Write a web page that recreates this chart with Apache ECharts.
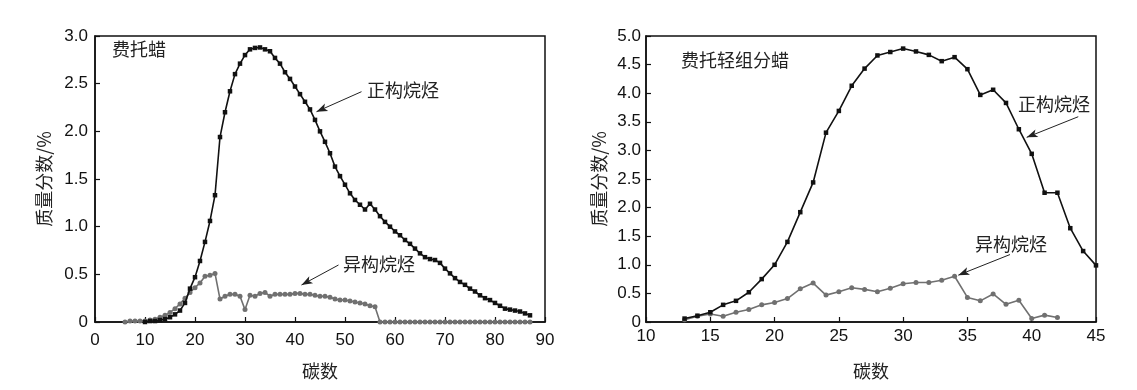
<!DOCTYPE html>
<html><head><meta charset="utf-8">
<script src="https://cdn.jsdelivr.net/npm/echarts@6/dist/echarts.min.js"></script>
<style>html,body{margin:0;padding:0;background:#fff}#c{width:1137px;height:390px}</style>
</head><body><div id="c"></div>
<script>
// ---- data ----
const leftNormalStart = 10;
const leftNormal = [0.00,0.01,0.01,0.02,0.03,0.05,0.08,0.12,0.20,0.35,0.47,0.64,0.84,1.06,1.33,1.94,2.20,2.42,2.60,2.71,2.80,2.86,2.875,2.88,2.86,2.84,2.77,2.71,2.62,2.55,2.47,2.39,2.31,2.23,2.12,2.00,1.89,1.77,1.63,1.53,1.44,1.35,1.28,1.23,1.18,1.24,1.18,1.11,1.05,1.00,0.95,0.91,0.86,0.82,0.77,0.72,0.68,0.66,0.65,0.62,0.56,0.51,0.46,0.42,0.39,0.35,0.32,0.28,0.25,0.23,0.20,0.17,0.14,0.13,0.12,0.11,0.09,0.07];
const leftIsoStart = 6;
const leftIso = [0.00,0.01,0.01,0.01,0.01,0.02,0.03,0.05,0.07,0.10,0.14,0.19,0.25,0.31,0.36,0.41,0.48,0.49,0.51,0.24,0.27,0.29,0.29,0.27,0.13,0.28,0.27,0.30,0.31,0.27,0.29,0.29,0.29,0.29,0.30,0.30,0.29,0.29,0.28,0.27,0.27,0.26,0.24,0.23,0.23,0.22,0.21,0.20,0.19,0.17,0.16,0,0,0,0,0,0,0,0,0,0,0,0,0,0,0,0,0,0,0,0,0,0,0,0,0,0,0,0,0,0,0];
const rightNormalStart = 13;
const rightNormal = [0.06,0.11,0.17,0.30,0.37,0.52,0.75,1.00,1.40,1.92,2.44,3.31,3.69,4.13,4.43,4.66,4.72,4.78,4.73,4.67,4.56,4.63,4.42,3.97,4.06,3.83,3.37,2.94,2.26,2.26,1.64,1.24,0.99];
const rightIsoStart = 13;
const rightIso = [0.04,0.10,0.14,0.10,0.17,0.22,0.30,0.34,0.41,0.58,0.68,0.47,0.53,0.60,0.57,0.53,0.59,0.67,0.69,0.69,0.73,0.80,0.43,0.37,0.49,0.31,0.38,0.06,0.12,0.08];
const leftTitle = '费托蜡';
const rightTitle = '费托轻组分蜡';
const normalName = '正构烷烃';
const isoName = '异构烷烃';
const xName = '碳数';
const yName = '质量分数/%';
// arrow anchors in data coords [from, to]
const leftNormalArrow = [[53.3, 2.416],[44.3, 2.206]];
const leftIsoArrow = [[48.7, 0.598],[41.3, 0.388]];
const rightNormalArrow = [[43.62, 3.589],[39.61, 3.228]];
const rightIsoArrow = [[38.31, 1.179],[34.29, 0.819]];

const pairs = (start, arr) => arr.map((v, i) => [start + i, v]);
const latin = '"Liberation Sans", Arial, sans-serif';
const cjk = '"Noto Sans CJK SC", sans-serif';
const BLACK = '#111';
const GRAY = '#707070';

function xAxis(gi, min, max, interval, labelMargin) {
  return {
    gridIndex: gi, type: 'value', min, max, interval,
    name: xName, nameLocation: 'middle', nameGap: 40,
    nameTextStyle: { fontFamily: cjk, fontSize: 18, color: '#222' },
    axisLine: { lineStyle: { color: BLACK, width: 1.5 } },
    axisTick: { inside: true, length: 5, lineStyle: { color: BLACK, width: 1.2 } },
    axisLabel: { fontFamily: latin, fontSize: 17, color: '#111', margin: labelMargin },
    splitLine: { show: false }
  };
}
function yAxis(gi, max, gap, labelMargin) {
  return {
    gridIndex: gi, type: 'value', min: 0, max, interval: 0.5,
    name: yName, nameLocation: 'middle', nameGap: gap, nameRotate: 90,
    nameTextStyle: { fontFamily: cjk, fontSize: 18, color: '#222' },
    axisLine: { lineStyle: { color: BLACK, width: 1.5 } },
    axisTick: { inside: true, length: 5, lineStyle: { color: BLACK, width: 1.2 } },
    axisLabel: { fontFamily: latin, fontSize: 17, color: '#111', margin: labelMargin,
      formatter: v => v === 0 ? '0' : v.toFixed(1) },
    splitLine: { show: false }
  };
}
function arrowLine(a) {
  return [{ coord: a[0], symbol: 'none' }, { coord: a[1], symbol: 'arrow', symbolSize: [6, 11] }];
}
function normalSeries(gi, start, arr, arrow) {
  return {
    type: 'line', xAxisIndex: gi, yAxisIndex: gi, data: pairs(start, arr),
    symbol: 'rect', symbolSize: 4.5, showSymbol: true,
    lineStyle: { color: BLACK, width: 1.6 }, itemStyle: { color: BLACK },
    animation: false, z: 3,
    markLine: { silent: true, symbol: ['none', 'arrow'], animation: false,
      lineStyle: { color: '#222', width: 1, type: 'solid' }, label: { show: false },
      data: [arrowLine(arrow)] }
  };
}
function isoSeries(gi, start, arr, arrow) {
  return {
    type: 'line', xAxisIndex: gi, yAxisIndex: gi, data: pairs(start, arr),
    symbol: 'circle', symbolSize: 5, showSymbol: true,
    lineStyle: { color: GRAY, width: 1.6 }, itemStyle: { color: GRAY },
    animation: false, z: 2,
    markLine: { silent: true, symbol: ['none', 'arrow'], animation: false,
      lineStyle: { color: '#222', width: 1, type: 'solid' }, label: { show: false },
      data: [arrowLine(arrow)] }
  };
}
function txt(left, top, text) {
  return { type: 'text', left, top, style: { text, fontFamily: cjk, fontSize: 18, fill: '#222' } };
}

const chart = echarts.init(document.getElementById('c'), null, { renderer: 'canvas' });
chart.setOption({
  backgroundColor: '#fff',
  animation: false,
  grid: [
    { left: 95, top: 36, width: 450, height: 286, show: true, borderColor: BLACK, borderWidth: 1.5, backgroundColor: 'transparent' },
    { left: 646, top: 36, width: 450, height: 286, show: true, borderColor: BLACK, borderWidth: 1.5, backgroundColor: 'transparent' }
  ],
  xAxis: [xAxis(0, 0, 90, 10, 10), xAxis(1, 10, 45, 5, 6)],
  yAxis: [yAxis(0, 3.0, 42, 7), yAxis(1, 5.0, 38, 5)],
  series: [
    normalSeries(0, leftNormalStart, leftNormal, leftNormalArrow),
    isoSeries(0, leftIsoStart, leftIso, leftIsoArrow),
    normalSeries(1, rightNormalStart, rightNormal, rightNormalArrow),
    isoSeries(1, rightIsoStart, rightIso, rightIsoArrow)
  ],
  graphic: [
    txt(112, 40, leftTitle),
    txt(681, 51, rightTitle),
    txt(367, 81, normalName),
    txt(343, 255, isoName),
    txt(1018, 95, normalName),
    txt(975, 235, isoName)
  ]
});
</script>
</body></html>
